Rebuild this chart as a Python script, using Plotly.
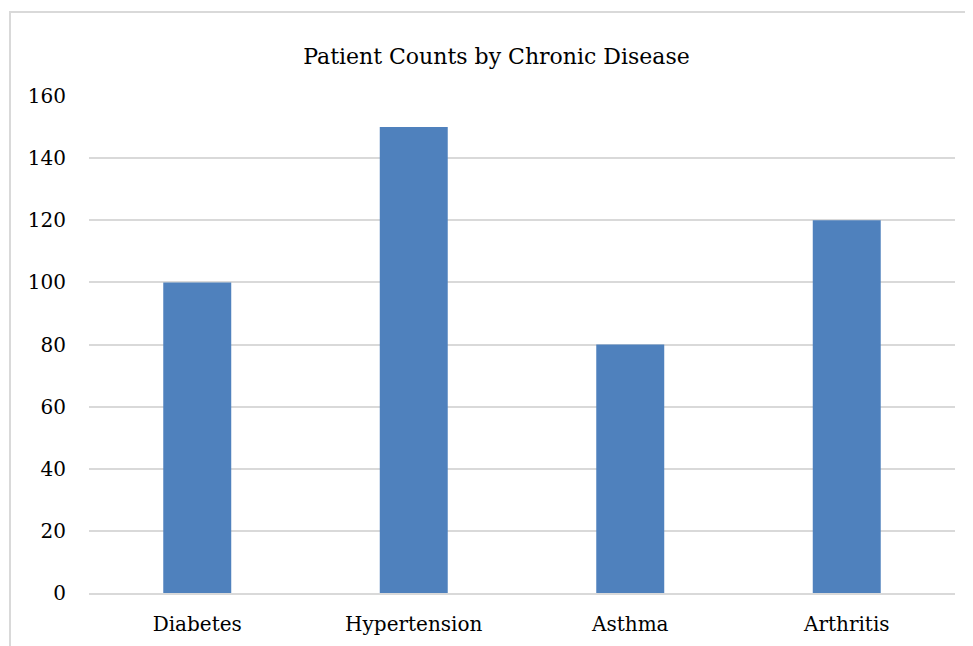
import plotly.graph_objects as go

categories = ["Diabetes", "Hypertension", "Asthma", "Arthritis"]
patient_counts = [100, 150, 80, 120]
y_ticks = [0, 20, 40, 60, 80, 100, 120, 140, 160]

FONT = "DejaVu Serif"

# page body has an 8px default margin; margins compensate for it
L, T = 81, 88
PW, PH = 866, 497

fig = go.Figure(
    go.Bar(
        x=categories,
        y=patient_counts,
        marker=dict(color="#4f81bd", line=dict(width=0)),
    )
)

fig.update_layout(
    width=973,
    height=646,
    paper_bgcolor="white",
    plot_bgcolor="white",
    margin=dict(l=L, r=973 - L - PW, t=T, b=646 - T - PH),
    bargap=0.686,
    showlegend=False,
    font=dict(family=FONT, color="#000000", size=20),
    title=dict(
        text="Patient Counts by Chronic Disease",
        x=488.5 / 973,
        xanchor="center",
        xref="container",
        y=1 - 48 / 646,
        yanchor="middle",
        font=dict(family=FONT, size=22, color="#000000"),
    ),
    xaxis=dict(
        showgrid=False,
        showline=True,
        linecolor="#d9d9d9",
        linewidth=2,
        ticks="",
        ticklabelstandoff=12,
        tickfont=dict(family=FONT, size=20),
    ),
    yaxis=dict(
        range=[0, 160],
        tickvals=y_ticks,
        showgrid=True,
        gridcolor="#d9d9d9",
        gridwidth=1.5,
        zeroline=False,
        showline=False,
        ticks="",
        ticklabelstandoff=22,
        tickfont=dict(family=FONT, size=20),
    ),
    shapes=[
        dict(
            type="rect",
            xref="paper",
            yref="paper",
            x0=(2 - L) / PW,
            x1=1.2,
            y0=-0.5,
            y1=1 + (T - 4) / PH,
            line=dict(color="#d9d9d9", width=2),
            fillcolor="rgba(0,0,0,0)",
            layer="below",
        )
    ],
)

fig.write_html("out.html")
